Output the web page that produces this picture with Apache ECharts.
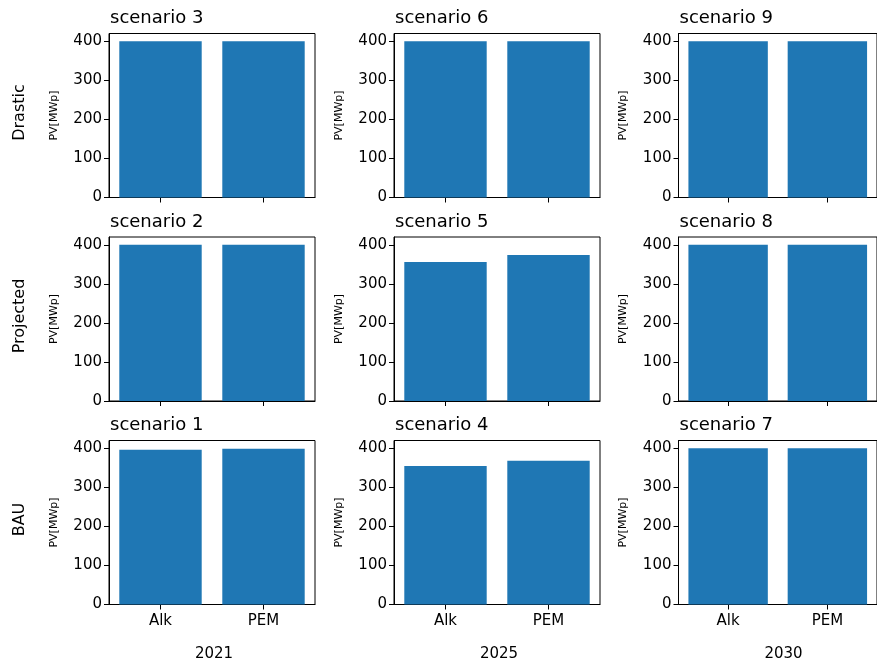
<!DOCTYPE html>
<html>
<head>
<meta charset="utf-8">
<script src="https://cdn.jsdelivr.net/npm/echarts@6/dist/echarts.min.js"></script>
<style>html,body{margin:0;padding:0;background:#fff}#c{width:877px;height:665px}</style>
</head>
<body>
<div id="c"></div>
<script>
// ---- data ----
var categories = ['Alk', 'PEM'];
var years = ['2021', '2025', '2030'];
var rowLabels = ['Drastic', 'Projected', 'BAU'];
// scenario numbers laid out [row][col]
var scenarioGrid = [[3, 6, 9], [2, 5, 8], [1, 4, 7]];
var scenario1 = [396, 399];
var scenario2 = [400, 400];
var scenario3 = [400, 400];
var scenario4 = [355, 368];
var scenario5 = [356, 374];
var scenario6 = [400, 400];
var scenario7 = [400, 400];
var scenario8 = [400, 400];
var scenario9 = [400, 400];
var yTicks = [0, 100, 200, 300, 400];
var yMax = 420;
var yLabel = 'PV[MWp]';

var scenarioData = {1: scenario1, 2: scenario2, 3: scenario3, 4: scenario4, 5: scenario5,
  6: scenario6, 7: scenario7, 8: scenario8, 9: scenario9};

// ---- layout ----
var colLeft = [109, 394, 678.5];
var rowTop = [33.5, 237, 440.5];
var gw = 206, gh = 164;
var FONT = 'DejaVu Sans';

var grids = [], xAxes = [], yAxes = [], series = [], graphics = [];
var idx = 0;
for (var r = 0; r < 3; r++) {
  for (var c = 0; c < 3; c++) {
    var sc = scenarioGrid[r][c];
    grids.push({left: colLeft[c], top: rowTop[r], width: gw, height: gh,
      show: true, borderColor: '#000', borderWidth: 1, backgroundColor: 'transparent', containLabel: false});
    xAxes.push({type: 'category', gridIndex: idx, data: categories, boundaryGap: true,
      axisLine: {show: true, lineStyle: {color: '#000', width: 1}},
      axisTick: {show: true, alignWithLabel: true, length: 5, inside: false, lineStyle: {color: '#000'}},
      axisLabel: {show: r === 2, color: '#000', fontFamily: FONT, fontSize: 15, margin: 9},
      splitLine: {show: false}});
    yAxes.push({type: 'value', gridIndex: idx, min: 0, max: yMax,
      axisLine: {show: true, lineStyle: {color: '#000', width: 1}},
      axisTick: {show: true, length: 5, inside: false, customValues: yTicks, lineStyle: {color: '#000'}},
      axisLabel: {show: true, color: '#000', fontFamily: FONT, fontSize: 15, margin: 7, customValues: yTicks},
      splitLine: {show: false}});
    series.push({type: 'bar', xAxisIndex: idx, yAxisIndex: idx, data: scenarioData[sc],
      barCategoryGap: '20%', itemStyle: {color: '#1f77b4'}, silent: true, animation: false});
    // title
    graphics.push({type: 'text', x: colLeft[c] + 1, y: rowTop[r] - 15,
      style: {text: 'scenario ' + sc, font: '18px "DejaVu Sans"', fill: '#000', align: 'left', verticalAlign: 'middle'}});
    // y label
    graphics.push({type: 'text', x: colLeft[c] - 55, y: rowTop[r] + gh / 2, rotation: Math.PI / 2,
      style: {text: yLabel, font: '11px "DejaVu Sans"', fill: '#000', align: 'center', verticalAlign: 'middle'}});
    idx++;
  }
  graphics.push({type: 'text', x: 20, y: rowTop[r] + gh / 2 - 3, rotation: Math.PI / 2,
    style: {text: rowLabels[r], font: '16px "DejaVu Sans"', fill: '#000', align: 'center', verticalAlign: 'middle'}});
}
for (var c2 = 0; c2 < 3; c2++) {
  graphics.push({type: 'text', x: colLeft[c2] + gw / 2 + 2, y: 654,
    style: {text: years[c2], font: '15px "DejaVu Sans"', fill: '#000', align: 'center', verticalAlign: 'middle'}});
}

var chart = echarts.init(document.getElementById('c'), null, {renderer: 'canvas'});
chart.setOption({
  animation: false,
  backgroundColor: '#fff',
  grid: grids, xAxis: xAxes, yAxis: yAxes, series: series,
  graphic: graphics
});
</script>
</body>
</html>
